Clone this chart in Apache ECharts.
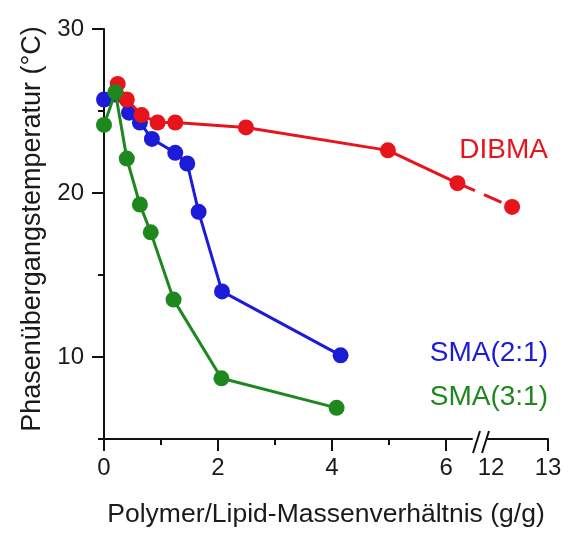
<!DOCTYPE html>
<html>
<head>
<meta charset="utf-8">
<script src="https://cdn.jsdelivr.net/npm/echarts@6.0.0/dist/echarts.min.js"></script>
<style>
  html, body { margin: 0; padding: 0; background: #fff; }
  #chart { width: 580px; height: 552px; }
</style>
</head>
<body>
<div id="chart"></div>
<script>
// values
const dibmaX = [0.24, 0.40, 0.66, 0.94, 1.25, 2.49, 4.98, 6.2, 12.37]
const dibmaY = [26.65, 25.7, 24.75, 24.3, 24.3, 24.0, 22.6, 20.6, 19.15]
const sma21X = [0, 0.2, 0.44, 0.63, 0.84, 1.25, 1.46, 1.66, 2.07, 4.15]
const sma21Y = [25.7, 26.0, 24.9, 24.3, 23.3, 22.45, 21.8, 18.85, 14.0, 10.1]
const sma31X = [0, 0.2, 0.4, 0.63, 0.82, 1.22, 2.06, 4.08]
const sma31Y = [24.15, 26.15, 22.1, 19.3, 17.6, 13.5, 8.7, 6.9]

const xLabels = [0, 2, 4, 6, 12, 13]
const xMajorTicks = [0, 2, 4, 6, 13]
const xMinorTicks = [1, 3, 5]
const yLabels = [10, 20, 30]
const yMinorTicks = [5, 15, 25]

const RED = '#e8141c'
const BLUE = '#1c1cd8'
const GREEN = '#1e881e'
const FONT = 'Liberation Sans, Arial, sans-serif'

const pairs = (xs, ys) => xs.map((x, i) => [x, ys[i]])
const dibma = pairs(dibmaX, dibmaY)

const xBreak = [{ start: 6.45, end: 11.95, gap: '3.7%' }]

const chart = echarts.init(document.getElementById('chart'))

function lineSeries(name, data, color, z) {
  return {
    name: name,
    type: 'line',
    data: data,
    z: z,
    symbol: 'circle',
    symbolSize: 16,
    clip: false,
    itemStyle: { color: color },
    lineStyle: { color: color, width: 3 },
    emphasis: { disabled: true }
  }
}

// last DIBMA segment crosses the axis break, drawn dashed
const tail = lineSeries('DIBMA tail', dibma.slice(-2), RED, 3)
tail.lineStyle.type = [19, 10]
tail.symbol = 'none'

chart.setOption({
  animation: false,
  grid: { left: 104, right: 32, top: 29, bottom: 113 },
  xAxis: [{
    type: 'value',
    position: 'bottom',
    min: 0,
    max: 13,
    breaks: xBreak,
    breakArea: { show: false },
    name: 'Polymer/Lipid-Massenverhältnis (g/g)',
    nameLocation: 'middle',
    nameGap: 62,
    nameTextStyle: { fontFamily: FONT, fontSize: 26.5, color: '#1a1a1a' },
    axisLine: { lineStyle: { color: '#111', width: 2 } },
    axisTick: { customValues: xMajorTicks, length: 12, lineStyle: { color: '#111', width: 2 } },
    axisLabel: { customValues: xLabels, margin: 17, fontFamily: FONT, fontSize: 24, color: '#1a1a1a' },
    splitLine: { show: false }
  }, {
    type: 'value',
    position: 'bottom',
    min: 0,
    max: 13,
    breaks: xBreak,
    breakArea: { show: false },
    axisLine: { show: false },
    axisTick: { customValues: xMinorTicks, length: 6, lineStyle: { color: '#111', width: 2 } },
    axisLabel: { show: false },
    splitLine: { show: false }
  }],
  yAxis: [{
    type: 'value',
    min: 5,
    max: 30,
    interval: 5,
    name: 'Phasenübergangstemperatur (°C)',
    nameLocation: 'middle',
    nameRotate: 90,
    nameGap: 58,
    nameTextStyle: { fontFamily: FONT, fontSize: 27, color: '#1a1a1a', padding: [0, 0, 0, 10] },
    axisLine: { show: true, lineStyle: { color: '#111', width: 2 } },
    axisTick: { show: true, customValues: yLabels, length: 12, lineStyle: { color: '#111', width: 2 } },
    axisLabel: { customValues: yLabels, margin: 20, fontFamily: FONT, fontSize: 24, color: '#1a1a1a' },
    splitLine: { show: false }
  }, {
    type: 'value',
    min: 5,
    max: 30,
    interval: 5,
    position: 'left',
    axisLine: { show: false },
    axisTick: { show: true, customValues: yMinorTicks, length: 6, lineStyle: { color: '#111', width: 2 } },
    axisLabel: { show: false },
    splitLine: { show: false }
  }],
  graphic: [
    // axis break marks
    { type: 'rect', shape: { x: 477, y: 435, width: 9, height: 6 }, style: { fill: '#fff' }, z: 100 },
    { type: 'line', shape: { x1: 473, y1: 453, x2: 480, y2: 431 }, style: { stroke: '#111', lineWidth: 2 }, z: 101 },
    { type: 'line', shape: { x1: 482, y1: 453, x2: 489, y2: 431 }, style: { stroke: '#111', lineWidth: 2 }, z: 101 },
    // series labels
    { type: 'text', right: 32, top: 136, style: { text: 'DIBMA', fill: RED, font: '28px ' + FONT } },
    { type: 'text', right: 32, top: 339, style: { text: 'SMA(2:1)', fill: BLUE, font: '28px ' + FONT } },
    { type: 'text', right: 32, top: 383, style: { text: 'SMA(3:1)', fill: GREEN, font: '28px ' + FONT } }
  ],
  series: [
    lineSeries('SMA(2:1)', pairs(sma21X, sma21Y), BLUE, 2),
    lineSeries('DIBMA', dibma.slice(0, -1), RED, 3),
    tail,
    lineSeries('DIBMA end', dibma.slice(-1), RED, 3),
    lineSeries('SMA(3:1)', pairs(sma31X, sma31Y), GREEN, 4)
  ]
})
</script>
</body>
</html>
